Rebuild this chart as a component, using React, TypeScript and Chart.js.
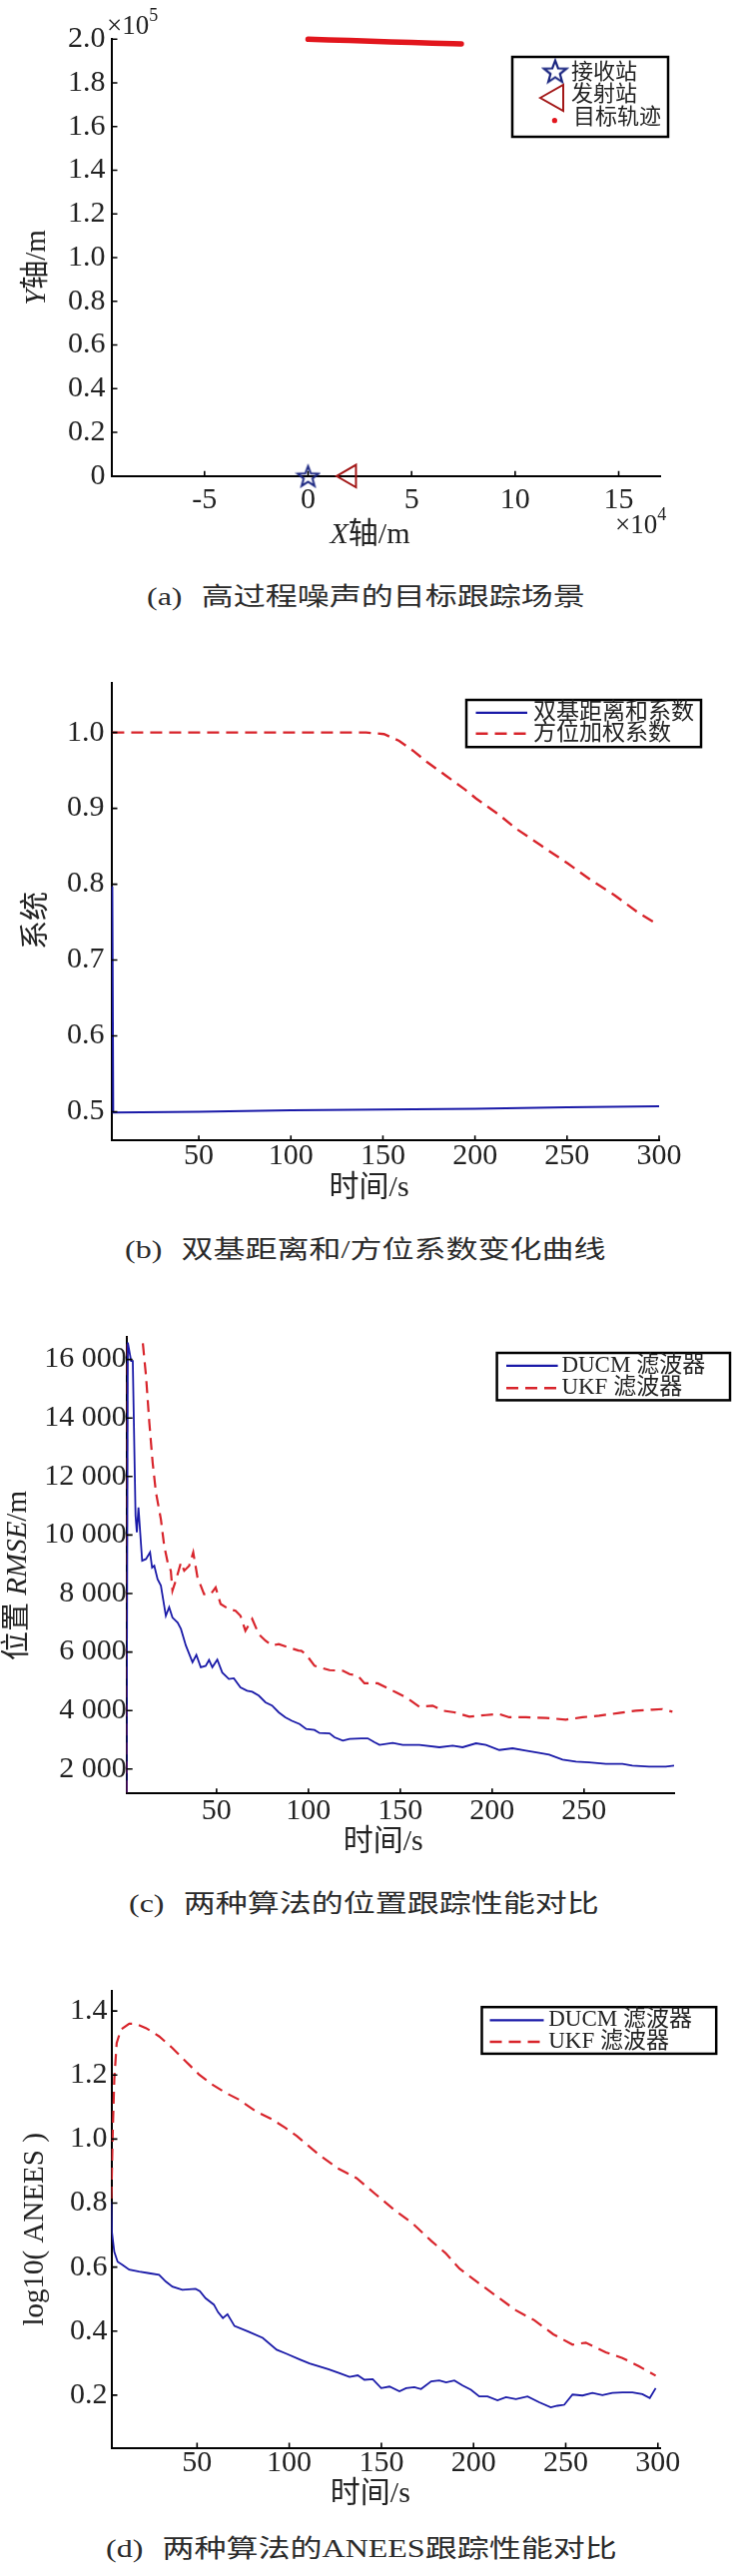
import React, { useEffect, useRef } from 'react';
import { Chart, registerables } from 'chart.js';

Chart.register(...registerables);

// ---------------- data ----------------
// (a) target tracking scene  (x in 1e4 m, y in 1e5 m)
const trackX = [0, 1, 2, 3, 4, 5, 6, 7, 7.4];
const trackY = [2.0, 1.997, 1.994, 1.991, 1.988, 1.985, 1.982, 1.98, 1.979];
const receiverX = [0];
const receiverY = [0];
const transmitterX = [2];
const transmitterY = [0];
const legendA = ['接收站', '发射站', '目标轨迹'];
const aXTicks = [-5, 0, 5, 10, 15];
const aYTicks = [0, 0.2, 0.4, 0.6, 0.8, 1.0, 1.2, 1.4, 1.6, 1.8, 2.0];

// (b) coefficient curves
const bRangeTime = [3, 3.5, 50, 100, 150, 200, 250, 300];
const bRangeCoef = [0.797, 0.499, 0.5, 0.502, 0.503, 0.504, 0.506, 0.507];
const bBearTime = [3, 50, 100, 140.9, 150.6, 158.8, 166.4, 174, 184.3, 194.5, 200.6, 212.3, 222.5, 235.3, 250.6, 263.3, 276.1, 288.9, 299.1];
const bBearCoef = [1.0, 1.0, 1.0, 1.0, 0.998, 0.989, 0.976, 0.961, 0.943, 0.925, 0.913, 0.893, 0.873, 0.852, 0.827, 0.805, 0.785, 0.762, 0.747];
const legendB = ['双基距离和系数', '方位加权系数'];
const bXTicks = [50, 100, 150, 200, 250, 300];
const bYTicks = [0.5, 0.6, 0.7, 0.8, 0.9, 1.0];

// (c) position RMSE
const cDucmTime = [1, 1.7, 3.5, 4.4, 5.9, 6.6, 7.5, 9.5, 11.6, 13.8, 14.9, 16.1, 17.9, 19.7, 22.4, 24.2, 26, 28.8, 30.6, 33.3, 36.9, 39, 41.4, 44.1, 45.9, 47.7, 50.4, 53.1, 56.7, 59.4, 63, 66.6, 69.4, 73, 76.6, 80.2, 83.8, 87.4, 91, 95.2, 98.8, 103.3, 106, 111.5, 114.2, 118.7, 122.4, 128.7, 132.3, 136, 138.7, 145.9, 151.3, 160.4, 171.3, 178.5, 183.9, 191.2, 196.6, 203.9, 211.1, 218.4, 225.6, 231, 238.3, 245.6, 252.8, 261.9, 270.9, 276.3, 285.4, 294.5, 299];
const cDucmRmse = [1200, 16580, 15950, 15950, 10660, 10090, 10940, 9120, 9180, 9410, 8890, 8950, 8490, 8270, 7240, 7530, 7180, 7010, 6790, 6220, 5650, 5900, 5480, 5530, 5730, 5480, 5740, 5300, 5080, 5100, 4790, 4680, 4640, 4510, 4280, 4170, 3940, 3770, 3650, 3540, 3370, 3335, 3232, 3220, 3085, 2970, 3030, 3050, 3050, 2915, 2825, 2890, 2825, 2825, 2745, 2800, 2745, 2880, 2825, 2650, 2710, 2630, 2550, 2495, 2325, 2255, 2230, 2175, 2175, 2120, 2085, 2085, 2120];
const cUkfTime = [1, 1.6, 9.5, 11.6, 13.4, 15.2, 17, 19.7, 21.5, 23.4, 25.1, 26, 27.8, 30.6, 32.4, 35.1, 37.3, 39.6, 43.2, 46.8, 49.5, 52.2, 56.7, 60.3, 63, 65.7, 69.4, 73, 76.6, 80.2, 83.8, 89.2, 94.6, 96.1, 98.8, 103.3, 111.5, 118.7, 122.4, 126.9, 130.5, 137.7, 144.1, 147.7, 153.2, 160.4, 167.6, 173.1, 179.4, 187.6, 196.6, 203.9, 209.3, 218.4, 229.3, 240.1, 249.2, 258.2, 269.1, 278.1, 287.2, 292.6, 298.1];
const cUkfRmse = [1200, 40000, 16800, 15440, 13850, 12480, 11460, 10540, 9630, 9060, 8780, 8100, 8440, 9060, 8780, 8950, 9410, 8560, 7980, 7980, 8210, 7640, 7470, 7410, 7240, 6730, 7130, 6610, 6390, 6220, 6270, 6160, 6050, 6045, 5910, 5530, 5380, 5360, 5245, 5190, 4930, 4930, 4735, 4620, 4450, 4130, 4165, 3995, 3940, 3790, 3845, 3880, 3770, 3770, 3745, 3690, 3770, 3825, 3915, 3995, 4030, 4050, 3960];
const cXTicks = [50, 100, 150, 200, 250];
const cYTicks = [2000, 4000, 6000, 8000, 10000, 12000, 14000, 16000];

// (d) log10(ANEES)
const dDucmTime = [3.5, 3.8, 5.1, 6.9, 9.6, 13.2, 18.6, 24, 29.4, 33, 36.6, 42, 49.2, 51.5, 54.6, 59.1, 61.4, 64, 66.5, 70.3, 78, 85.6, 93.2, 98.3, 106, 111, 121.2, 127.3, 132.7, 137.2, 140.8, 145.3, 149.9, 154.4, 159.8, 163.4, 167.9, 171.5, 177, 181.4, 185.1, 189.6, 194.1, 198.6, 203.1, 207.6, 213, 217.6, 223, 229.3, 235.6, 241.9, 245.5, 249.2, 253.7, 259.1, 264.5, 269.9, 275.3, 280.8, 286.2, 291.6, 295.6, 298.8];
const dDucmAnees = [0.804, 0.71, 0.648, 0.617, 0.607, 0.592, 0.586, 0.581, 0.576, 0.555, 0.539, 0.529, 0.532, 0.525, 0.503, 0.483, 0.459, 0.441, 0.453, 0.416, 0.398, 0.379, 0.342, 0.33, 0.311, 0.299, 0.281, 0.269, 0.257, 0.262, 0.248, 0.25, 0.222, 0.227, 0.212, 0.222, 0.225, 0.219, 0.243, 0.246, 0.24, 0.246, 0.23, 0.217, 0.196, 0.196, 0.184, 0.194, 0.188, 0.196, 0.178, 0.162, 0.167, 0.17, 0.202, 0.199, 0.207, 0.2, 0.207, 0.209, 0.209, 0.203, 0.191, 0.222];
const dUkfTime = [3.5, 4.2, 5.1, 6.4, 8.7, 13.2, 16.8, 22.2, 29.4, 36.5, 43.8, 51, 58.1, 65.3, 72.5, 81.5, 90.5, 97.7, 104, 116, 126.3, 136.5, 146.6, 156.8, 167, 177.2, 184.8, 192.4, 202.6, 212.8, 223, 233, 243.3, 253.7, 260.9, 271.7, 280.8, 289.8, 298.8];
const dUkfAnees = [0.814, 1.01, 1.187, 1.3, 1.342, 1.36, 1.36, 1.347, 1.321, 1.285, 1.243, 1.202, 1.171, 1.145, 1.124, 1.088, 1.062, 1.036, 1.01, 0.952, 0.909, 0.878, 0.829, 0.78, 0.736, 0.681, 0.644, 0.595, 0.551, 0.508, 0.465, 0.434, 0.39, 0.358, 0.364, 0.334, 0.316, 0.29, 0.261];
const legendCD = ['DUCM 滤波器', 'UKF 滤波器'];
const dXTicks = [50, 100, 150, 200, 250, 300];
const dYTicks = [0.2, 0.4, 0.6, 0.8, 1.0, 1.2, 1.4];

const captionA = ['(a)', '高过程噪声的目标跟踪场景'];
const captionB = ['(b)', '双基距离和/方位系数变化曲线'];
const captionC = ['(c)', '两种算法的位置跟踪性能对比'];
const captionD = ['(d)', '两种算法的ANEES跟踪性能对比'];

// ---------------- styling ----------------
const FONT = '"Liberation Serif", "Times New Roman", "Noto Sans CJK SC", serif';
const INK = '#222';
const BLUE = '#1a1aa8';
const RED = '#d8242b';
const DASH = [12, 7];

interface Frame { top: number; height: number; left: number; right: number; plotTop: number; plotBottom: number; }
const FA: Frame = { top: 0, height: 560, left: 111.5, right: 661, plotTop: 39.3, plotBottom: 476.8 };
const FB: Frame = { top: 640, height: 570, left: 111.5, right: 660, plotTop: 684.3, plotBottom: 1142.3 };
const FC: Frame = { top: 1300, height: 560, left: 126.7, right: 675, plotTop: 1339.2, plotBottom: 1796.3 };
const FD: Frame = { top: 1960, height: 560, left: 111.5, right: 661, plotTop: 1993.6, plotBottom: 2451.5 };

interface Ax { min: number; max: number; ticks: number[]; pad: number; fmt: (v: number) => string; size?: number; }

const toXY = (xs: number[], ys: number[]) => xs.map((x, i) => ({ x, y: ys[i] }));
const fixed1 = (v: number) => v.toFixed(1);
const plain = (v: number) => String(v);
const thousands = (v: number) => String(Math.round(v)).replace(/\B(?=(\d{3})+(?!\d))/g, ' ');

function scalesFor(f: Frame, x: Ax, y: Ax) {
  const mk = (a: Ax, horiz: boolean) => ({
    type: 'linear',
    position: horiz ? 'bottom' : 'left',
    min: a.min,
    max: a.max,
    afterBuildTicks: (s: any) => {
      s.ticks = a.ticks.map((v) => ({ value: v }));
    },
    ticks: {
      autoSkip: false,
      maxRotation: 0,
      minRotation: 0,
      color: INK,
      font: { family: FONT, size: a.size ?? 30 },
      padding: a.pad,
      callback: (v: number) => a.fmt(v),
    },
    grid: { display: false, drawTicks: false },
    border: { display: true, color: '#000', width: 2 },
    afterFit: horiz
      ? (s: any) => { s.height = f.height - (f.plotBottom - f.top); }
      : (s: any) => { s.width = f.left; },
  });
  return { x: mk(x, true), y: mk(y, false) };
}

interface Seg { t: string; italic?: boolean; size: number; rise?: number; }

function drawRich(ctx: CanvasRenderingContext2D, segs: Seg[], cx: number, cy: number, rotate = false, align: 'center' | 'left' = 'center') {
  ctx.save();
  ctx.translate(cx, cy);
  if (rotate) ctx.rotate(-Math.PI / 2);
  const fontOf = (s: Seg) => `${s.italic ? 'italic ' : ''}${s.size}px ${FONT}`;
  let total = 0;
  const widths = segs.map((s) => {
    ctx.font = fontOf(s);
    const w = ctx.measureText(s.t).width;
    total += w;
    return w;
  });
  let x = align === 'left' ? 0 : -total / 2;
  ctx.textBaseline = 'middle';
  ctx.textAlign = 'left';
  ctx.fillStyle = INK;
  segs.forEach((s, i) => {
    ctx.font = fontOf(s);
    ctx.fillText(s.t, x, -(s.rise || 0));
    x += widths[i];
  });
  ctx.restore();
}

function drawInwardTicks(chart: any) {
  const ctx = chart.ctx as CanvasRenderingContext2D;
  const { x, y } = chart.scales;
  const area = chart.chartArea;
  ctx.save();
  ctx.strokeStyle = '#000';
  ctx.lineWidth = 1.6;
  ctx.beginPath();
  x.ticks.forEach((t: any) => {
    const px = x.getPixelForValue(t.value);
    ctx.moveTo(px, area.bottom);
    ctx.lineTo(px, area.bottom - 5);
  });
  y.ticks.forEach((t: any) => {
    const py = y.getPixelForValue(t.value);
    ctx.moveTo(area.left, py);
    ctx.lineTo(area.left + 6, py);
  });
  ctx.stroke();
  ctx.restore();
}

function drawLineLegend(ctx: CanvasRenderingContext2D, f: Frame, box: [number, number, number, number], rows: number[], labels: string[], lx0: number, lx1: number, tx: number, size: number) {
  const [bx0, by0, bx1, by1] = box;
  ctx.save();
  ctx.fillStyle = '#fff';
  ctx.fillRect(bx0, by0 - f.top, bx1 - bx0, by1 - by0);
  ctx.strokeStyle = '#000';
  ctx.lineWidth = 2.5;
  ctx.strokeRect(bx0, by0 - f.top, bx1 - bx0, by1 - by0);
  const styles = [
    { color: BLUE, dash: [] as number[], w: 2.2 },
    { color: RED, dash: DASH, w: 2.6 },
  ];
  rows.forEach((ry, i) => {
    const st = styles[i];
    ctx.beginPath();
    ctx.setLineDash(st.dash);
    ctx.strokeStyle = st.color;
    ctx.lineWidth = st.w;
    ctx.moveTo(lx0, ry - f.top);
    ctx.lineTo(lx1, ry - f.top);
    ctx.stroke();
    ctx.setLineDash([]);
    drawRich(ctx, [{ t: labels[i], size }], tx, ry - f.top, false, 'left');
  });
  ctx.restore();
}

function makeStar(size: number, color: string, lw: number): HTMLCanvasElement {
  const c = document.createElement('canvas');
  c.width = size;
  c.height = size;
  const g = c.getContext('2d')!;
  const R = size / 2 - lw;
  const r = R * 0.42;
  g.beginPath();
  for (let i = 0; i < 10; i++) {
    const ang = -Math.PI / 2 + (i * Math.PI) / 5;
    const rad = i % 2 === 0 ? R : r;
    const px = size / 2 + rad * Math.cos(ang);
    const py = size / 2 + 1 + rad * Math.sin(ang);
    if (i === 0) g.moveTo(px, py);
    else g.lineTo(px, py);
  }
  g.closePath();
  g.strokeStyle = color;
  g.lineWidth = lw;
  g.lineJoin = 'miter';
  g.stroke();
  return c;
}

function baseOptions(f: Frame, scales: any, decor: (chart: any, ctx: CanvasRenderingContext2D) => void) {
  return {
    options: {
      responsive: false,
      animation: false,
      events: [],
      layout: { padding: { left: 0, top: f.plotTop - f.top, right: 736 - f.right, bottom: 0 } },
      plugins: { legend: { display: false }, tooltip: { enabled: false } },
      scales,
    },
    plugins: [
      {
        id: 'decor',
        afterDraw(chart: any) {
          const ctx = chart.ctx as CanvasRenderingContext2D;
          drawInwardTicks(chart);
          ctx.save();
          decor(chart, ctx);
          ctx.restore();
        },
      },
    ],
  };
}

// ---------------- chart builders ----------------
function buildA(): any {
  const f = FA;
  const star = makeStar(26, '#1a2580', 2);
  const starLegend = makeStar(28, '#1a2580', 2.2);
  const scales = scalesFor(
    f,
    { min: -9.5, max: 17, ticks: aXTicks, pad: 6, fmt: plain },
    { min: 0, max: 2.0, ticks: aYTicks, pad: 6, fmt: (v) => (v === 0 ? '0' : v.toFixed(1)) },
  );
  const base = baseOptions(f, scales, (chart, ctx) => {
    drawRich(ctx, [{ t: 'Y', italic: true, size: 29 }, { t: '轴/m', size: 29 }], 37.6, 268 - f.top, true);
    drawRich(ctx, [{ t: 'X', italic: true, size: 30 }, { t: '轴/m', size: 30 }], 370.5, 536 - f.top);
    drawRich(ctx, [{ t: '×10', size: 27 }, { t: '5', size: 18, rise: 11 }], 107, 27 - f.top, false, 'left');
    drawRich(ctx, [{ t: '×10', size: 27 }, { t: '4', size: 18, rise: 11 }], 616, 527 - f.top, false, 'left');
    // legend
    ctx.fillStyle = '#fff';
    ctx.fillRect(513, 57, 156, 80);
    ctx.strokeStyle = '#000';
    ctx.lineWidth = 2.5;
    ctx.strokeRect(513, 57, 156, 80);
    ctx.drawImage(starLegend, 556 - 14, 71.5 - 14);
    ctx.beginPath();
    ctx.moveTo(541, 98);
    ctx.lineTo(564, 85);
    ctx.lineTo(564, 111);
    ctx.closePath();
    ctx.strokeStyle = '#a31818';
    ctx.lineWidth = 2;
    ctx.stroke();
    ctx.beginPath();
    ctx.arc(555.4, 120.7, 2.6, 0, Math.PI * 2);
    ctx.fillStyle = '#e2161d';
    ctx.fill();
    drawRich(ctx, [{ t: legendA[0], size: 22 }], 572, 73, false, 'left');
    drawRich(ctx, [{ t: legendA[1], size: 22 }], 572, 95, false, 'left');
    drawRich(ctx, [{ t: legendA[2], size: 22 }], 574, 118, false, 'left');
  });
  return {
    type: 'scatter',
    data: {
      datasets: [
        {
          label: legendA[2],
          data: toXY(trackX, trackY),
          showLine: true,
          borderColor: '#e2161d',
          backgroundColor: '#e2161d',
          borderWidth: 5.5,
          borderCapStyle: 'round',
          pointRadius: 0,
          clip: false,
        },
        {
          label: legendA[0],
          data: toXY(receiverX, receiverY),
          pointStyle: star,
          pointRadius: 11,
          clip: false,
        },
        {
          label: legendA[1],
          data: toXY(transmitterX, transmitterY),
          pointStyle: 'triangle',
          rotation: -90,
          pointRadius: 13,
          borderColor: '#a31818',
          backgroundColor: 'rgba(0,0,0,0)',
          borderWidth: 2,
          clip: false,
        },
      ],
    },
    ...base,
  };
}

function buildB(): any {
  const f = FB;
  const scales = scalesFor(
    f,
    { min: 2.5, max: 300, ticks: bXTicks, pad: -2.5, fmt: plain },
    { min: 0.462, max: 1.065, ticks: bYTicks, pad: 7, fmt: fixed1 },
  );
  const base = baseOptions(f, scales, (chart, ctx) => {
    drawRich(ctx, [{ t: '系统', size: 29 }], 37.6, 922 - f.top, true);
    drawRich(ctx, [{ t: '时间/s', size: 30 }], 369.6, 1190 - f.top);
    drawLineLegend(ctx, f, [467, 701, 702, 748.2], [713.8, 734.8], legendB, 476.5, 528, 534, 23);
  });
  return {
    type: 'scatter',
    data: {
      datasets: [
        { label: legendB[0], data: toXY(bRangeTime, bRangeCoef), showLine: true, borderColor: BLUE, borderWidth: 2, pointRadius: 0 },
        { label: legendB[1], data: toXY(bBearTime, bBearCoef), showLine: true, borderColor: RED, borderWidth: 2.4, borderDash: DASH, pointRadius: 0 },
      ],
    },
    ...base,
  };
}

function buildC(): any {
  const f = FC;
  const scales = scalesFor(
    f,
    { min: 1, max: 299, ticks: cXTicks, pad: -0.5, fmt: plain },
    { min: 1164, max: 16765, ticks: cYTicks, pad: 0, fmt: thousands },
  );
  const base = baseOptions(f, scales, (chart, ctx) => {
    drawRich(ctx, [{ t: '位置 ', size: 29 }, { t: 'RMSE', italic: true, size: 29 }, { t: '/m', size: 29 }], 18.8, 1578 - f.top, true);
    drawRich(ctx, [{ t: '时间/s', size: 30 }], 383.7, 1845.3 - f.top);
    drawLineLegend(ctx, f, [497.6, 1355, 731, 1402.4], [1367.8, 1390.2], legendCD, 507, 558.6, 562.4, 23);
  });
  return {
    type: 'scatter',
    data: {
      datasets: [
        { label: legendCD[0], data: toXY(cDucmTime, cDucmRmse), showLine: true, borderColor: BLUE, borderWidth: 1.8, pointRadius: 0 },
        { label: legendCD[1], data: toXY(cUkfTime, cUkfRmse), showLine: true, borderColor: RED, borderWidth: 2.2, borderDash: DASH, pointRadius: 0 },
      ],
    },
    ...base,
  };
}

function buildD(): any {
  const f = FD;
  const scales = scalesFor(
    f,
    { min: 3.5, max: 301.2, ticks: dXTicks, pad: -2.2, fmt: plain },
    { min: 0.036, max: 1.464, ticks: dYTicks, pad: 4, fmt: fixed1 },
  );
  const base = baseOptions(f, scales, (chart, ctx) => {
    drawRich(ctx, [{ t: 'log10( ANEES )', size: 29 }], 35.2, 2232.8 - f.top, true);
    drawRich(ctx, [{ t: '时间/s', size: 30 }], 370.8, 2497.8 - f.top);
    drawLineLegend(ctx, f, [482.5, 2010.2, 717.2, 2056.9], [2023.3, 2045], legendCD, 490.5, 544.5, 549.2, 23);
  });
  return {
    type: 'scatter',
    data: {
      datasets: [
        { label: legendCD[0], data: toXY(dDucmTime, dDucmAnees), showLine: true, borderColor: BLUE, borderWidth: 1.8, pointRadius: 0 },
        { label: legendCD[1], data: toXY(dUkfTime, dUkfAnees), showLine: true, borderColor: RED, borderWidth: 2.2, borderDash: DASH, pointRadius: 0 },
      ],
    },
    ...base,
  };
}

// ---------------- components ----------------
function ChartCanvas({ frame, build }: { frame: Frame; build: () => any }) {
  const ref = useRef<HTMLCanvasElement>(null);
  useEffect(() => {
    if (!ref.current) return;
    const chart = new Chart(ref.current, build());
    return () => chart.destroy();
  }, []);
  return (
    <canvas
      ref={ref}
      width={736}
      height={frame.height}
      style={{ position: 'absolute', left: 0, top: frame.top, width: 736, height: frame.height, display: 'block' }}
    />
  );
}

function Caption({ parts, left, centerY }: { parts: string[]; left: number; centerY: number }) {
  return (
    <div
      style={{
        position: 'absolute',
        left,
        top: centerY - 15,
        height: 30,
        lineHeight: '30px',
        fontSize: 25,
        fontFamily: FONT,
        color: '#2a2a2a',
        whiteSpace: 'nowrap',
        transform: 'scaleX(1.28)',
        transformOrigin: 'left center',
      }}
    >
      <span>{parts[0]}</span>
      <span style={{ marginLeft: 15 }}>{parts[1]}</span>
    </div>
  );
}

export default function App() {
  return (
    <div style={{ position: 'absolute', left: 0, top: 0, width: 736, height: 2580, background: '#fff', overflow: 'hidden' }}>
      <ChartCanvas frame={FA} build={buildA} />
      <ChartCanvas frame={FB} build={buildB} />
      <ChartCanvas frame={FC} build={buildC} />
      <ChartCanvas frame={FD} build={buildD} />
      <Caption parts={captionA} left={147} centerY={598} />
      <Caption parts={captionB} left={125} centerY={1252} />
      <Caption parts={captionC} left={129} centerY={1906.5} />
      <Caption parts={captionD} left={105.6} centerY={2553} />
    </div>
  );
}
